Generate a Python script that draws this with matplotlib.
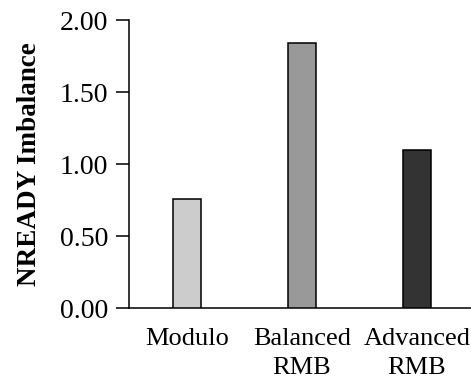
import matplotlib
matplotlib.use("Agg")
import matplotlib.pyplot as plt

categories = ["Modulo", "Balanced\nRMB", "Advanced\nRMB"]
values = [0.755, 1.84, 1.10]
colors = ["#cccccc", "#999999", "#333333"]
yticks = [0.0, 0.5, 1.0, 1.5, 2.0]
ytick_labels = ["0.00", "0.50", "1.00", "1.50", "2.00"]

plt.rcParams['font.family'] = ['Liberation Serif', 'DejaVu Serif']

fig = plt.figure(figsize=(4.71, 3.81), dpi=100)
ax = fig.add_axes([129/471, 1-308/381, 1-129/471, (308-20)/381])

x = list(range(len(categories)))
ax.bar(x, values, width=0.25, color=colors, edgecolor="black", linewidth=1.1, zorder=3)

ax.set_xlim(-0.504, 2.47)
ax.set_ylim(0, 2.0)
ax.set_yticks(yticks)
ax.set_yticklabels(ytick_labels, fontsize=20)
ax.set_xticks(x)
ax.set_xticklabels(categories, fontsize=19, linespacing=1.4)
ax.tick_params(axis='y', length=9.5, width=1.1, pad=5.5, direction='out')
ax.tick_params(axis='x', length=0, pad=14.5)

for s in ['top', 'right']:
    ax.spines[s].set_visible(False)
for s in ['left', 'bottom']:
    ax.spines[s].set_linewidth(1.1)

ax.set_ylabel("NREADY Imbalance", fontsize=19.5, fontweight='bold', labelpad=13)

fig.savefig("out.png", dpi=100)
